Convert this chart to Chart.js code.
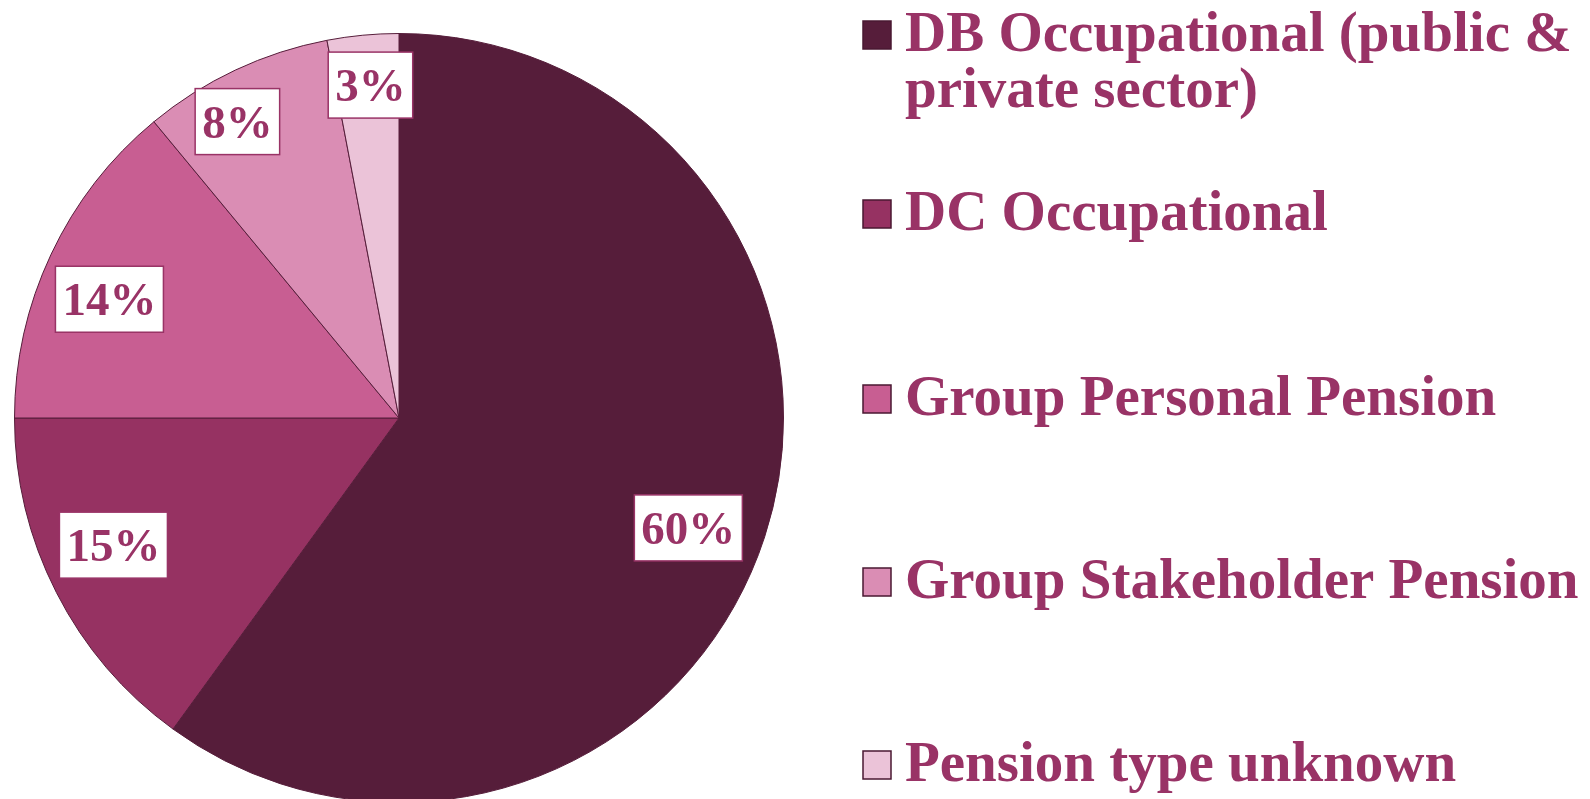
<!DOCTYPE html>
<html>
<head>
<meta charset="utf-8">
<script src="https://cdn.jsdelivr.net/npm/chart.js@4.4.1/dist/chart.umd.min.js"></script>
<style>
  html, body { margin: 0; padding: 0; background: #ffffff; overflow: hidden; }
  #wrap { position: absolute; left: 0; top: 0; width: 1590px; height: 840px; }
</style>
</head>
<body>
<div id="wrap"><canvas id="c" width="1590" height="840"></canvas></div>
<script>
const categories = [
  ['DB Occupational (public &', 'private sector)'],
  'DC Occupational',
  'Group Personal Pension',
  'Group Stakeholder Pension',
  'Pension type unknown'
];
const shares = [60, 15, 14, 8, 3];
const sliceColors = ['#561D3A', '#963262', '#C85E92', '#DA8DB4', '#EBC3D8'];

const TEXT_COLOR = '#993366';
const FONT = '"Liberation Serif", "Times New Roman", serif';

const labelPlugin = {
  id: 'boxLabels',
  afterDatasetsDraw(chart) {
    const ctx = chart.ctx;
    const o = chart.options.plugins.boxLabels;
    const meta = chart.getDatasetMeta(0);
    const total = shares.reduce((a, b) => a + b, 0);
    ctx.save();
    ctx.font = 'bold 47px ' + FONT;
    meta.data.forEach((arc, i) => {
      const p = arc.getProps(['x', 'y', 'startAngle', 'endAngle', 'outerRadius'], true);
      const mid = (p.startAngle + p.endAngle) / 2 + (o.angleShift[i] || 0) * Math.PI / 180;
      const frac = o.radiusFrac[i];
      const cx = p.x + Math.cos(mid) * p.outerRadius * frac;
      const cy = p.y + Math.sin(mid) * p.outerRadius * frac;
      const txt = Math.round(shares[i] / total * 100) + '%';
      const tw = ctx.measureText(txt).width;
      const bw = tw + 14, bh = 66;
      ctx.fillStyle = '#ffffff';
      ctx.fillRect(cx - bw / 2, cy - bh / 2, bw, bh);
      ctx.strokeStyle = TEXT_COLOR;
      ctx.lineWidth = 1.5;
      ctx.strokeRect(cx - bw / 2, cy - bh / 2, bw, bh);
      ctx.fillStyle = TEXT_COLOR;
      ctx.textAlign = 'center';
      ctx.textBaseline = 'alphabetic';
      ctx.fillText(txt, cx, cy + 16);
    });
    ctx.restore();
  }
};

const legendPlugin = {
  id: 'sideLegend',
  afterDraw(chart) {
    const ctx = chart.ctx;
    const o = chart.options.plugins.sideLegend;
    const ds = chart.data.datasets[0];
    ctx.save();
    ctx.font = 'bold 57px ' + FONT;
    ctx.textAlign = 'left';
    ctx.textBaseline = 'alphabetic';
    chart.data.labels.forEach((lab, i) => {
      const base = o.baselines[i];
      ctx.fillStyle = ds.backgroundColor[i];
      ctx.fillRect(o.boxX, base - 30, 28, 28);
      ctx.strokeStyle = '#4a1832';
      ctx.lineWidth = 1.5;
      ctx.strokeRect(o.boxX, base - 30, 28, 28);
      ctx.fillStyle = TEXT_COLOR;
      const lines = Array.isArray(lab) ? lab : [lab];
      lines.forEach((ln, j) => ctx.fillText(ln, o.textX, base + j * o.lineHeight));
    });
    ctx.restore();
  }
};

new Chart(document.getElementById('c'), {
  type: 'pie',
  data: {
    labels: categories,
    datasets: [{
      data: shares,
      backgroundColor: sliceColors,
      borderColor: '#561D3A',
      borderWidth: 1
    }]
  },
  options: {
    responsive: false,
    devicePixelRatio: 1,
    animation: false,
    layout: { padding: { left: 14, right: 806, top: 33, bottom: 37 } },
    plugins: {
      legend: { display: false },
      tooltip: { enabled: false },
      boxLabels: {
        angleShift: [2.8, 3, -2.9, -3.4, 0.5],
        radiusFrac: [0.805, 0.813, 0.814, 0.878, 0.869]
      },
      sideLegend: { boxX: 863, textX: 905, baselines: [51, 230, 415, 598, 781], lineHeight: 56 }
    }
  },
  plugins: [labelPlugin, legendPlugin]
});
</script>
</body>
</html>
